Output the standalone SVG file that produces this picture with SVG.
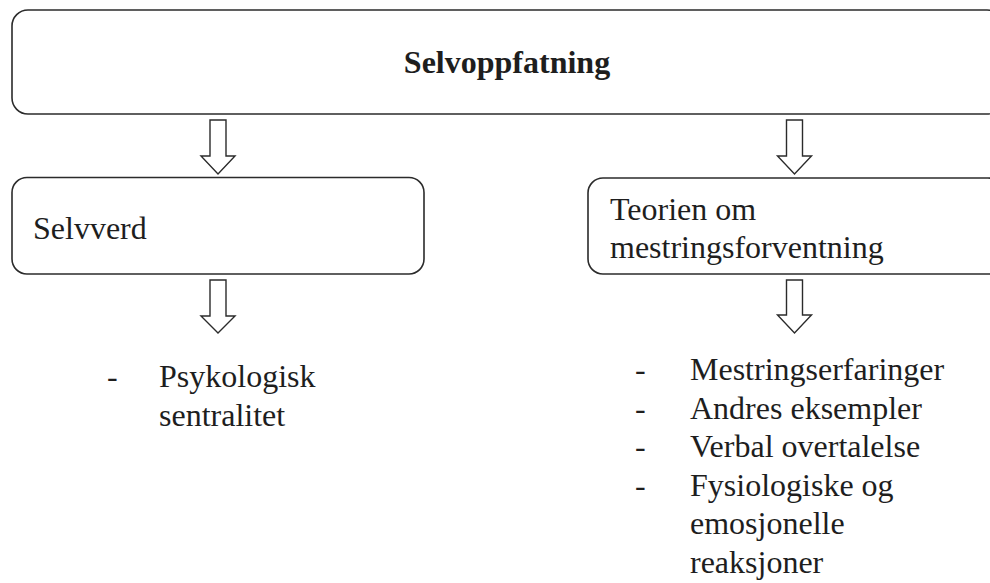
<svg xmlns="http://www.w3.org/2000/svg" width="990" height="583" viewBox="0 0 990 583">
<style>
.box{fill:#fff;stroke:#2b2b2b;stroke-width:1.6}
.arr{fill:#fff;stroke:#2b2b2b;stroke-width:1.4;stroke-linejoin:miter}
text{font-family:"Liberation Serif","Times New Roman",serif;font-size:32px;fill:#1e1e1e}
.b{font-weight:bold}
</style>
<rect width="990" height="583" fill="#fff"/>
<g id="node-selvoppfatning">
<rect class="box" x="12" y="10" width="991" height="104" rx="16"/>
<text class="b" x="507" y="73" text-anchor="middle">Selvoppfatning</text>
</g>
<g id="node-selvverd">
<rect class="box" x="12" y="177.5" width="412" height="96.5" rx="15"/>
<text x="33" y="239">Selvverd</text>
</g>
<g id="node-teorien">
<rect class="box" x="588" y="178" width="415" height="96" rx="15"/>
<text x="610" y="220">Teorien om</text>
<text x="610" y="258">mestringsforventning</text>
</g>
<g id="list-left">
<text x="107" y="387">-</text>
<text x="159" y="387">Psykologisk</text>
<text x="159" y="425.5">sentralitet</text>
</g>
<g id="list-right">
<text x="635" y="380">-</text>
<text x="690" y="380">Mestringserfaringer</text>
<text x="635" y="418.6">-</text>
<text x="690" y="418.6">Andres eksempler</text>
<text x="635" y="457.2">-</text>
<text x="690" y="457.2">Verbal overtalelse</text>
<text x="635" y="495.8">-</text>
<text x="690" y="495.8">Fysiologiske og</text>
<text x="690" y="534.4">emosjonelle</text>
<text x="690" y="573">reaksjoner</text>
</g>
<g id="connectors">
<path class="arr" d="M210 120 H226 V156 H235 L218 174 L201 156 H210 Z"/>
<path class="arr" d="M786.5 120 H802.5 V156 H811.5 L794.5 174 L777.5 156 H786.5 Z"/>
<path class="arr" d="M210 280 H226 V316 H235 L218 333 L201 316 H210 Z"/>
<path class="arr" d="M786.5 280 H802.5 V315 H811.5 L794.5 333 L777.5 315 H786.5 Z"/>
</g>
</svg>
